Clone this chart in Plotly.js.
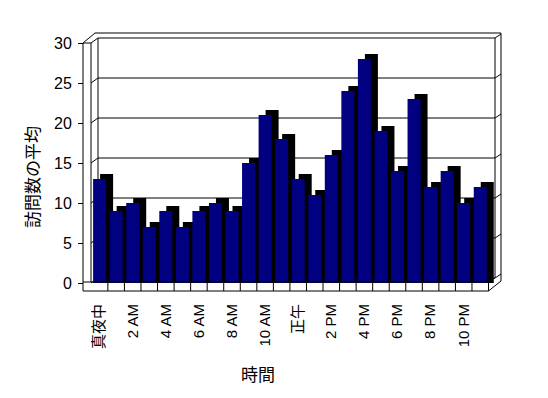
<!DOCTYPE html>
<html>
<head>
<meta charset="utf-8">
<script src="https://cdn.plot.ly/plotly-3.0.1.min.js"></script>
<style>html,body{margin:0;padding:0;background:#fff;}#chart{width:548px;height:398px;}</style>
</head>
<body>
<div id="chart"></div>
<script>
// ---- data ----
const hours = ["真夜中","1 AM","2 AM","3 AM","4 AM","5 AM","6 AM","7 AM","8 AM","9 AM","10 AM","11 AM",
               "正午","1 PM","2 PM","3 PM","4 PM","5 PM","6 PM","7 PM","8 PM","9 PM","10 PM","11 PM"];
const visits = [13,9,10,7,9,7,9,10,9,15,21,18,13,11,16,24,28,19,14,23,12,14,10,12];
const yTicks = [0,5,10,15,20,25,30];
const xTitle = "時間";
const yTitle = "訪問数の平均";

// ---- geometry (pixel mapping of the 3D frame) ----
const W = 548, H = 398;
const L = 80, R = 43, T = 30, B = 104;
const CX0 = 99.6, CW = 16.55, Y0 = 283, UPY = 8;
const X = p => (p - CX0) / CW;
const Y = p => (Y0 - p) / UPY;
const BW = 13 / CW, DX = 7 / CW, DY = 5 / UPY;
const FONT = "Liberation Sans, Noto Sans CJK JP, sans-serif";

const idx = hours.map((_, i) => i);

const shadow = {
  type: 'bar', x: idx, y: visits.map(v => v + DY), width: BW, offset: -BW / 2 + DX,
  marker: {color: '#000000', line: {width: 0}}, hoverinfo: 'skip', showlegend: false
};
const front = {
  type: 'bar', x: idx, y: visits, width: BW, offset: -BW / 2,
  marker: {color: '#000080', line: {width: 0}}, hoverinfo: 'skip', showlegend: false
};

const shapes = [];
function seg(x0, y0, x1, y1, layer) {
  shapes.push({type: 'line', xref: 'x', yref: 'y', x0: X(x0), y0: Y(y0), x1: X(x1), y1: Y(y1),
               line: {color: '#000', width: 1}, layer: layer || 'above'});
}
// back wall gridlines + left/right wall diagonals
yTicks.forEach(v => {
  const yf = Y0 - UPY * v, yb = yf - 5;
  seg(98, yb, 495, yb, 'below');
  seg(91, yf, 98, yb, 'below');
  seg(495, yb, 501, yb - 4, 'below');
});
// back wall edges
seg(98, 38, 98, 278, 'below');
seg(495, 38, 495, 278, 'below');
// top outer
seg(95, 33, 501, 33);
seg(83, 43, 95, 33);
seg(501, 33, 501, 281);
// left wall front face
seg(83, 43, 83, 291);
seg(91, 43, 91, 282);
seg(83, 43, 91, 43);
// floor front face
const fr = CX0 - CW / 2 + 24 * CW;
seg(83, 282, fr, 282);
seg(83, 291, fr, 291);
seg(fr, 282, fr, 291);
for (let k = 1; k < hours.length; k++) {
  const px = CX0 - CW / 2 + k * CW;
  seg(px, 282, px, 291);
}
seg(fr, 291, 501, 281);
seg(fr, 282, 495, 278);

const pw = W - L - R, ph = H - T - B;
const layout = {
  width: W, height: H,
  margin: {l: L, r: R, t: T, b: B, pad: 0},
  paper_bgcolor: '#fff', plot_bgcolor: 'rgba(0,0,0,0)',
  barmode: 'overlay',
  showlegend: false,
  font: {family: FONT, color: '#000'},
  xaxis: {
    range: [X(L), X(W - R)], showgrid: false, zeroline: false, showline: false,
    tickmode: 'array', tickvals: idx.filter(i => i % 2 === 0),
    ticktext: idx.filter(i => i % 2 === 0).map(i => hours[i]),
    tickangle: -90, ticks: '', tickfont: {size: 15, family: FONT, color: '#000'},
    ticklabelstandoff: 6, fixedrange: true
  },
  yaxis: {
    range: [Y(H - B), Y(T)], showgrid: false, zeroline: false, showline: false,
    anchor: 'free', position: (83 - L) / pw,
    tickmode: 'array', tickvals: yTicks, ticks: 'outside', ticklen: 5, tickcolor: '#000',
    tickfont: {size: 16, family: FONT, color: '#000'}, ticklabelstandoff: 3, fixedrange: true
  },
  shapes: shapes,
  annotations: [
    {text: xTitle, xref: 'paper', yref: 'paper', x: (258 - L) / pw, y: (H - B - 375) / ph,
     xanchor: 'center', yanchor: 'middle', showarrow: false, font: {size: 17, family: FONT, color: '#000'}},
    {text: yTitle, xref: 'paper', yref: 'paper', x: (33 - L) / pw, y: (H - B - 177) / ph,
     xanchor: 'center', yanchor: 'middle', textangle: -90, showarrow: false,
     font: {size: 17, family: FONT, color: '#000'}}
  ]
};
Plotly.newPlot('chart', [shadow, front], layout, {displayModeBar: false, staticPlot: true});
</script>
</body>
</html>
